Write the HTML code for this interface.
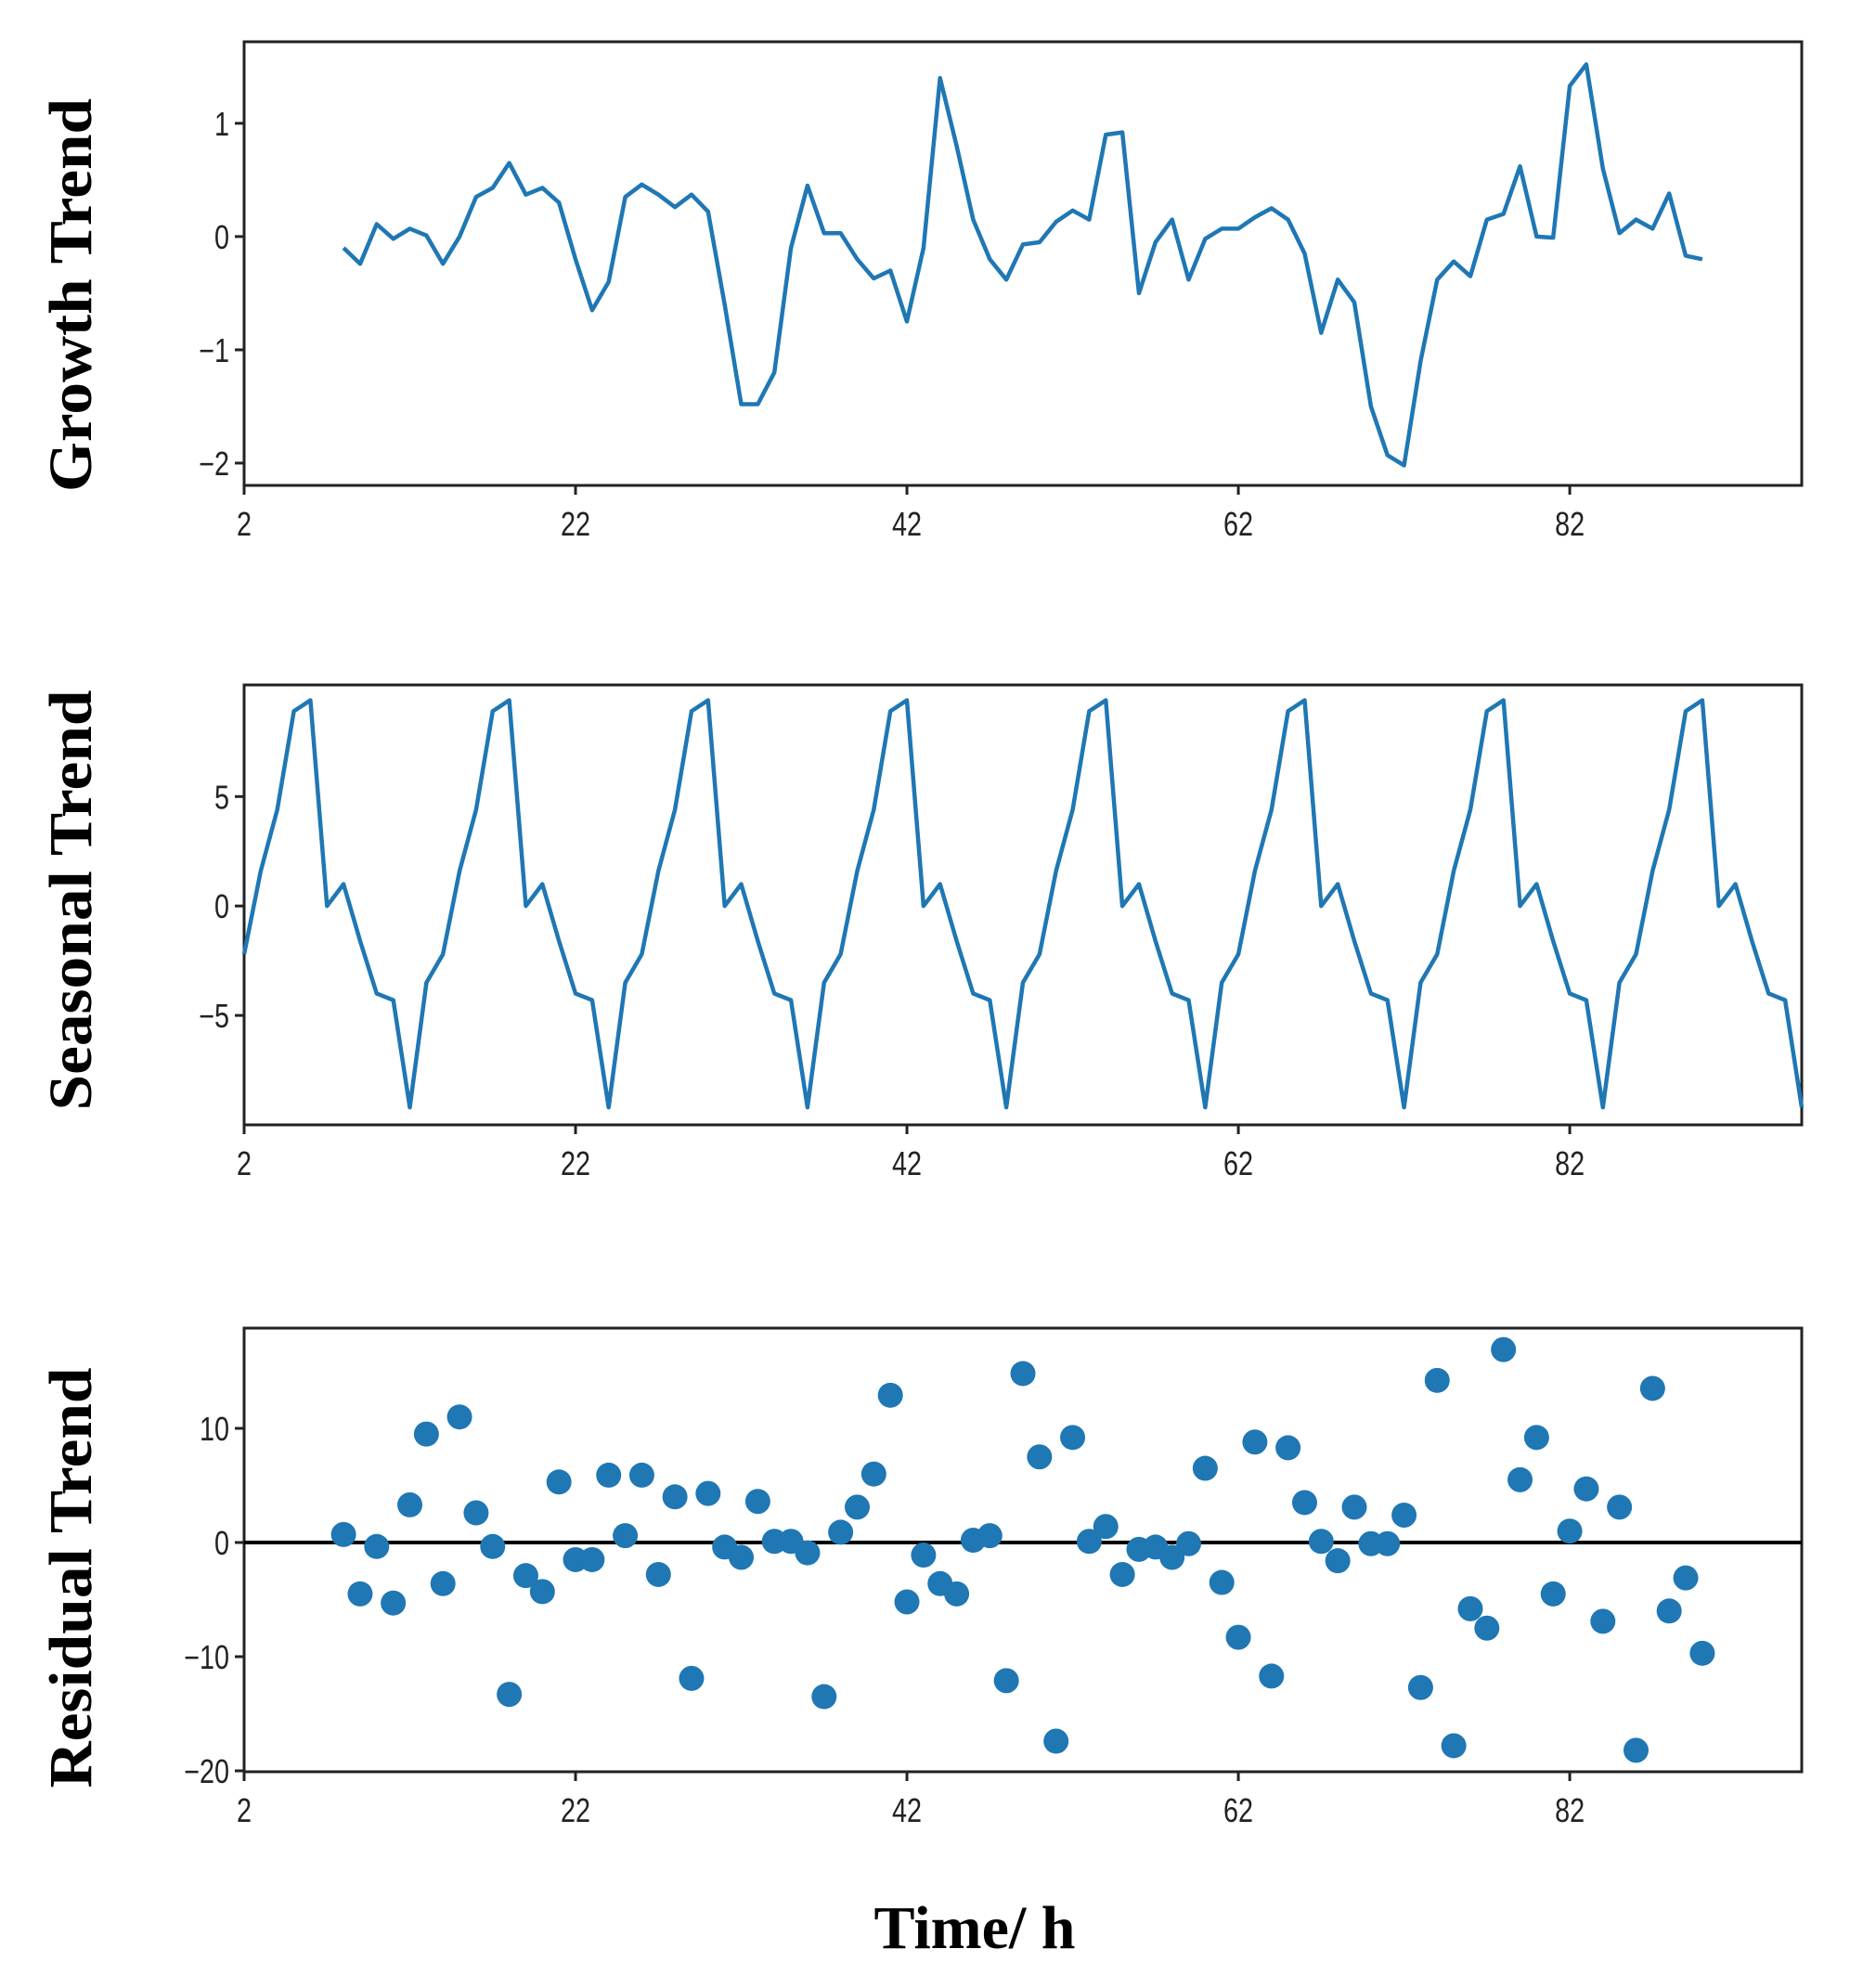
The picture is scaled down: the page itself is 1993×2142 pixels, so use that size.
<!DOCTYPE html>
<html><head><meta charset="utf-8">
<style>
html,body{margin:0;padding:0;background:#fff;}
svg{display:block;}
.tk{font-family:"Liberation Sans",sans-serif;font-size:36px;fill:#222;}
.yl{font-family:"Liberation Serif",serif;font-weight:bold;font-size:66px;fill:#000;}
</style></head>
<body>
<svg id="chart" width="1993" height="2142" viewBox="0 0 1993 2142" xmlns="http://www.w3.org/2000/svg">
<text class="yl" transform="translate(98,318) rotate(-90)" text-anchor="middle" textLength="424" lengthAdjust="spacingAndGlyphs">Growth Trend</text>
<text class="yl" transform="translate(98,970) rotate(-90)" text-anchor="middle" textLength="453" lengthAdjust="spacingAndGlyphs">Seasonal Trend</text>
<text class="yl" transform="translate(98,1700) rotate(-90)" text-anchor="middle" textLength="453" lengthAdjust="spacingAndGlyphs">Residual Trend</text>
<text class="yl" x="1050" y="2099" text-anchor="middle" textLength="217" lengthAdjust="spacingAndGlyphs">Time/ h</text>
</svg>
<script>
const xTicks = [2, 22, 42, 62, 82];
const growthStart = 8;
const growthValues = [-0.1,-0.24,0.11,-0.02,0.07,0.01,-0.24,0,0.35,0.43,0.65,0.37,0.43,0.3,-0.2,-0.65,-0.4,0.35,0.46,0.37,0.26,0.37,0.22,-0.6,-1.48,-1.48,-1.2,-0.1,0.45,0.03,0.03,-0.2,-0.37,-0.3,-0.75,-0.1,1.4,0.8,0.15,-0.2,-0.38,-0.07,-0.05,0.13,0.23,0.15,0.9,0.92,-0.5,-0.05,0.15,-0.38,-0.02,0.07,0.07,0.17,0.25,0.15,-0.15,-0.85,-0.38,-0.58,-1.5,-1.93,-2.02,-1.1,-0.38,-0.22,-0.35,0.15,0.2,0.62,0,-0.01,1.33,1.52,0.6,0.03,0.15,0.07,0.38,-0.17,-0.2];
const growthTicks = [1, 0, -1, -2];
const seasonalStart = 2;
const seasonalValues = [
-2.2,1.6,4.4,8.9,9.4,0,1,-1.6,-4,-4.3,-9.2,-3.5,
-2.2,1.6,4.4,8.9,9.4,0,1,-1.6,-4,-4.3,-9.2,-3.5,
-2.2,1.6,4.4,8.9,9.4,0,1,-1.6,-4,-4.3,-9.2,-3.5,
-2.2,1.6,4.4,8.9,9.4,0,1,-1.6,-4,-4.3,-9.2,-3.5,
-2.2,1.6,4.4,8.9,9.4,0,1,-1.6,-4,-4.3,-9.2,-3.5,
-2.2,1.6,4.4,8.9,9.4,0,1,-1.6,-4,-4.3,-9.2,-3.5,
-2.2,1.6,4.4,8.9,9.4,0,1,-1.6,-4,-4.3,-9.2,-3.5,
-2.2,1.6,4.4,8.9,9.4,0,1,-1.6,-4,-4.3,-9.2];
const seasonalTicks = [5, 0, -5];
const residualStart = 8;
const residualValues = [0.7,-4.5,-0.35,-5.3,3.3,9.5,-3.6,11,2.6,-0.35,-13.3,-2.9,-4.3,5.3,-1.5,-1.5,5.9,0.6,5.9,-2.8,4.0,-11.9,4.3,-0.4,-1.3,3.6,0.1,0.1,-0.9,-13.5,0.9,3.1,6,12.9,-5.2,-1.1,-3.6,-4.5,0.2,0.6,-12.1,14.8,7.5,-17.4,9.2,0.1,1.4,-2.8,-0.6,-0.4,-1.3,-0.1,6.5,-3.5,-8.3,8.8,-11.7,8.3,3.5,0.1,-1.6,3.1,-0.1,-0.1,2.4,-12.7,14.2,-17.8,-5.8,-7.5,16.9,5.5,9.2,-4.5,1,4.7,-6.9,3.1,-18.2,13.5,-6,-3.1,-9.7];
const residualTicks = [10, 0, -10, -20];

const NS = "http://www.w3.org/2000/svg";
const svg = document.getElementById('chart');
const L = 263, R = 1941;
const xMin = 2, xMax = 96;
function xs(v){ return L + (v - xMin) / (xMax - xMin) * (R - L); }
function mk(tag, attrs, parent){
  const e = document.createElementNS(NS, tag);
  for (const k in attrs) e.setAttribute(k, attrs[k]);
  (parent || svg).appendChild(e);
  return e;
}
function panel(name, top, bottom, yMin, yMax, yTicks){
  const g = mk('g', {});
  
  
  const ys = v => bottom - (v - yMin) / (yMax - yMin) * (bottom - top);
  const frame = mk('rect', {x:L, y:top, width:R-L, height:bottom-top, fill:'none', stroke:'#222', 'stroke-width':3}, g);
  
  
  yTicks.forEach(t => {
    const y = ys(t);
    const tl = mk('line', {x1:L-10, x2:L, y1:y, y2:y, stroke:'#222', 'stroke-width':3}, g);
    
    
    const tx = mk('text', {class:'tk', 'text-anchor':'end', transform:'translate(' + (L-16) + ',' + (y+13) + ') scale(0.8,1)'}, g);
    tx.textContent = String(t).replace('-', '\u2212');
    
    
  });
  xTicks.forEach(t => {
    const x = xs(t);
    const tl = mk('line', {x1:x, x2:x, y1:bottom, y2:bottom+10, stroke:'#222', 'stroke-width':3}, g);
    
    
    const tx = mk('text', {class:'tk', 'text-anchor':'middle', transform:'translate(' + x + ',' + (bottom+54) + ') scale(0.8,1)'}, g);
    tx.textContent = String(t);
    
    
  });
  return {g, ys};
}
function linePlot(name, p, start, vals){
  const pts = vals.map((v,i) => xs(start + i).toFixed(1) + ',' + p.ys(v).toFixed(1)).join(' ');
  const pl = mk('polyline', {points:pts, fill:'none', stroke:'#1f77b4', 'stroke-width':4.5, 'stroke-linejoin':'round'}, p.g);
  
  
}
const p1 = panel('growth', 45, 523, -2.197, 1.72, growthTicks);
linePlot('growth', p1, growthStart, growthValues);
const p2 = panel('seasonal', 738, 1212, -10.0, 10.1, seasonalTicks);
linePlot('seasonal', p2, seasonalStart, seasonalValues);
const p3 = panel('residual', 1431, 1909, -20.08, 18.78, residualTicks);
const zl = mk('line', {x1:L, x2:R, y1:p3.ys(0), y2:p3.ys(0), stroke:'#000', 'stroke-width':4}, p3.g);


residualValues.forEach((v,i) => {
  const c = mk('circle', {cx:xs(residualStart + i), cy:p3.ys(v), r:13.5, fill:'#1f77b4'}, p3.g);
  
  
});
</script>
</body></html>
